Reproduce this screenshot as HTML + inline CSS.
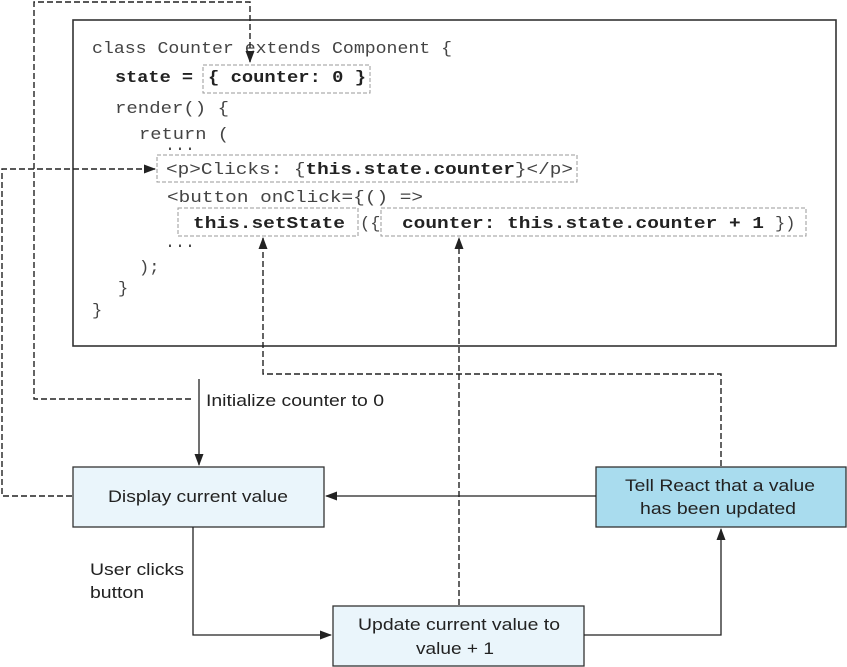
<!DOCTYPE html>
<html><head><meta charset="utf-8"><style>
html,body{margin:0;padding:0;background:#fff;}
svg{display:block;}
.m{font-family:"Liberation Mono","DejaVu Sans Mono",monospace;font-size:17px;fill:#444;}
.b{font-weight:bold;fill:#222;}
.s{font-family:"Liberation Sans",Arial,sans-serif;font-size:17px;fill:#222;}
</style></head><body>
<svg width="847" height="667" viewBox="0 0 847 667" xmlns="http://www.w3.org/2000/svg">
<defs>
<marker id="a" markerWidth="12" markerHeight="9" refX="11" refY="4.5" orient="auto" markerUnits="userSpaceOnUse">
<path d="M0,0 L12,4.5 L0,9 z" fill="#222"/></marker>
</defs>
<rect x="73" y="20" width="763" height="326" fill="#fff" stroke="#333" stroke-width="1.6"/>
<g fill="none" stroke="#999" stroke-width="1" stroke-dasharray="4,2">
<rect x="203" y="65" width="167" height="28"/>
<rect x="157" y="155" width="420" height="27"/>
<rect x="178" y="208" width="180" height="28"/>
<rect x="381" y="208" width="425" height="28"/>
</g>
<text class="m" x="92" y="53" textLength="360" lengthAdjust="spacingAndGlyphs">class Counter extends Component {</text>
<text class="m b" x="115" y="82" textLength="78" lengthAdjust="spacingAndGlyphs">state =</text>
<text class="m b" x="208" y="82" textLength="158" lengthAdjust="spacingAndGlyphs">{ counter: 0 }</text>
<text class="m" x="115" y="113" textLength="114" lengthAdjust="spacingAndGlyphs">render() {</text>
<text class="m" x="139" y="139" textLength="90" lengthAdjust="spacingAndGlyphs">return (</text>
<text class="m" x="165" y="150" textLength="30" lengthAdjust="spacingAndGlyphs">...</text>
<text class="m" x="166" y="174" textLength="407" lengthAdjust="spacingAndGlyphs">&lt;p&gt;Clicks: {<tspan class="b">this.state.counter</tspan>}&lt;/p&gt;</text>
<text class="m" x="167" y="202" textLength="256" lengthAdjust="spacingAndGlyphs">&lt;button onClick={() =&gt;</text>
<text class="m b" x="193" y="228" textLength="152" lengthAdjust="spacingAndGlyphs">this.setState</text>
<text class="m" x="360" y="228">({</text>
<text class="m b" x="402" y="228" textLength="362" lengthAdjust="spacingAndGlyphs">counter: this.state.counter + 1</text>
<text class="m" x="775" y="228">})</text>
<text class="m" x="165" y="247" textLength="30" lengthAdjust="spacingAndGlyphs">...</text>
<text class="m" x="139" y="272">);</text>
<text class="m" x="118" y="293">}</text>
<text class="m" x="92" y="315">}</text>
<rect x="73" y="467" width="251" height="60" fill="#eaf5fb" stroke="#333" stroke-width="1.3"/>
<rect x="596" y="467" width="250" height="60" fill="#a9dcee" stroke="#333" stroke-width="1.3"/>
<rect x="333" y="606" width="251" height="60" fill="#eaf5fb" stroke="#333" stroke-width="1.3"/>
<text class="s" x="198" y="502" text-anchor="middle" textLength="180" lengthAdjust="spacingAndGlyphs">Display current value</text>
<text class="s" x="720" y="491" text-anchor="middle" textLength="190" lengthAdjust="spacingAndGlyphs">Tell React that a value</text>
<text class="s" x="718" y="514" text-anchor="middle" textLength="156" lengthAdjust="spacingAndGlyphs">has been updated</text>
<text class="s" x="459" y="630" text-anchor="middle" textLength="202" lengthAdjust="spacingAndGlyphs">Update current value to</text>
<text class="s" x="455" y="654" text-anchor="middle" textLength="78" lengthAdjust="spacingAndGlyphs">value + 1</text>
<text class="s" x="206" y="406" textLength="178" lengthAdjust="spacingAndGlyphs">Initialize counter to 0</text>
<text class="s" x="90" y="575" textLength="94" lengthAdjust="spacingAndGlyphs">User clicks</text>
<text class="s" x="90" y="598" textLength="54" lengthAdjust="spacingAndGlyphs">button</text>
<g fill="none" stroke="#222" stroke-width="1.3">
<line x1="199" y1="379" x2="199" y2="465" marker-end="url(#a)"/>
<line x1="596" y1="496" x2="326" y2="496" marker-end="url(#a)"/>
<polyline points="193,527 193,635 331,635" marker-end="url(#a)"/>
<polyline points="584,635 721,635 721,529" marker-end="url(#a)"/>
</g>
<g fill="none" stroke="#222" stroke-width="1.4" stroke-dasharray="6,3">
<polyline points="191,399 34,399 34,2 250,2 250,62" marker-end="url(#a)"/>
<polyline points="72,496 2,496 2,169 155,169" marker-end="url(#a)"/>
<polyline points="459,605 459,238" marker-end="url(#a)"/>
<polyline points="721,466 721,374 263,374 263,238" marker-end="url(#a)"/>
</g>
</svg>
</body></html>
